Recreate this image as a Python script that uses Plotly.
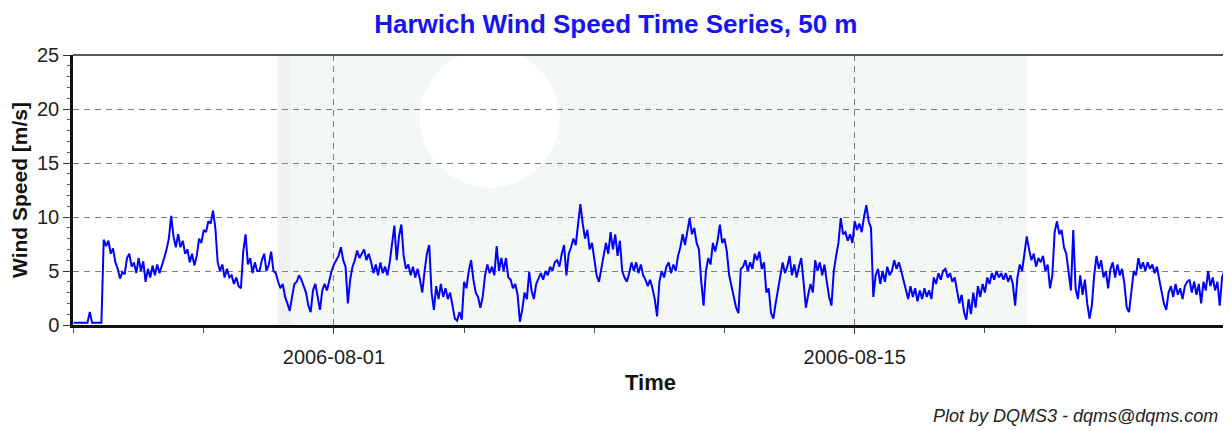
import pandas as pd
import plotly.graph_objects as go

title = "Harwich Wind Speed Time Series, 50 m"
start_time = "2006-07-25 00:00"
step = "90min"
# wind speed [m/s], one value every 1.5 hours
speed = [
    # 07-25
    0.2, 0.2, 0.2, 0.2, 0.2, 0.2, 0.2, 1.2, 0.2, 0.2, 0.2, 0.2, 0.2, 7.9, 7.3, 7.8,
    # 07-26
    6.6, 7.1, 5.8, 5.2, 4.3, 4.9, 4.7, 6.2, 6.6, 5.4, 5.8, 4.8, 6.2, 5.0, 5.9, 4.0,
    # 07-27
    5.2, 4.4, 5.5, 4.6, 5.6, 4.8, 5.4, 6.2, 7.0, 8.0, 10.1, 8.2, 7.2, 8.4, 7.2, 7.8,
    # 07-28
    6.6, 7.0, 5.8, 6.6, 5.5, 6.4, 8.0, 7.6, 8.8, 8.6, 9.6, 9.4, 10.6, 9.0, 5.8, 5.0,
    # 07-29
    5.6, 4.4, 5.2, 4.4, 4.6, 3.8, 4.4, 3.6, 3.4, 6.8, 8.4, 5.6, 6.2, 4.8, 5.8, 5.0,
    # 07-30
    5.0, 6.0, 6.6, 5.0, 5.6, 6.8, 5.0, 4.8, 4.0, 3.4, 3.8, 2.6, 2.0, 1.3, 2.6, 3.8,
    # 07-31
    4.0, 4.6, 4.2, 3.6, 3.0, 1.8, 1.2, 3.2, 3.8, 2.6, 1.4, 3.2, 3.8, 3.2, 4.2, 5.0,
    # 08-01
    5.6, 6.0, 6.4, 7.2, 6.0, 5.4, 2.0, 4.2, 5.4, 6.0, 6.9, 6.2, 6.6, 7.0, 6.0, 6.6,
    # 08-02
    5.8, 4.8, 5.6, 4.6, 5.8, 4.8, 5.4, 4.6, 5.8, 7.4, 9.2, 6.0, 8.2, 9.3, 6.4, 5.2,
    # 08-03
    5.6, 4.6, 5.4, 4.4, 5.2, 4.2, 3.0, 5.0, 6.6, 7.4, 3.0, 1.4, 3.6, 2.4, 3.8, 2.6,
    # 08-04
    3.4, 2.4, 3.0, 1.8, 0.6, 0.4, 1.2, 0.5, 4.0, 3.4, 5.0, 6.0, 4.2, 3.0, 2.6, 1.6,
    # 08-05
    2.6, 4.6, 5.6, 4.8, 5.4, 4.6, 7.3, 5.0, 6.2, 5.0, 6.2, 4.4, 4.2, 3.4, 3.8, 2.8,
    # 08-06
    0.3, 1.4, 3.0, 2.4, 4.9, 3.2, 2.4, 3.8, 4.4, 4.8, 4.2, 5.0, 4.6, 5.4, 5.0, 5.8,
    # 08-07
    6.0, 5.4, 6.6, 7.4, 4.6, 6.6, 7.2, 8.0, 7.4, 9.2, 11.2, 9.4, 8.0, 8.8, 7.0, 7.6,
    # 08-08
    6.2, 4.6, 4.0, 5.4, 6.4, 7.6, 6.6, 8.6, 7.0, 8.4, 6.4, 7.8, 5.0, 4.4, 4.0, 4.8,
    # 08-09
    5.8, 5.0, 5.8, 4.8, 5.6, 4.6, 4.2, 3.6, 4.2, 3.4, 2.4, 0.8, 4.0, 5.0, 4.4, 5.4,
    # 08-10
    5.8, 4.8, 5.6, 5.0, 6.4, 7.2, 8.4, 7.4, 8.6, 9.9, 8.4, 9.0, 7.6, 7.0, 4.0, 1.8,
    # 08-11
    5.0, 6.2, 5.6, 7.6, 6.8, 7.8, 9.3, 7.6, 8.0, 6.8, 4.6, 3.6, 2.4, 1.6, 1.1, 5.2,
    # 08-12
    5.4, 6.0, 5.0, 5.8, 5.2, 6.6, 6.0, 6.8, 5.2, 5.8, 3.0, 3.4, 1.1, 0.6, 2.0, 3.2,
    # 08-13
    4.4, 5.8, 4.8, 5.4, 6.4, 4.6, 5.6, 4.4, 5.4, 6.2, 4.0, 1.6, 2.8, 3.8, 3.0, 6.0,
    # 08-14
    5.0, 5.8, 4.6, 5.6, 4.0, 2.6, 1.8, 5.0, 6.4, 7.6, 9.9, 8.4, 8.6, 7.8, 8.4, 7.6,
    # 08-15
    9.6, 8.8, 9.4, 8.6, 10.0, 11.1, 9.6, 9.0, 2.6, 4.6, 5.2, 3.8, 5.0, 4.0, 5.4, 4.6,
    # 08-16
    5.0, 6.0, 5.2, 5.8, 5.0, 4.2, 3.2, 2.4, 3.6, 2.6, 3.4, 2.2, 3.2, 2.4, 3.4, 2.6,
    # 08-17
    3.2, 2.4, 4.4, 3.8, 4.8, 4.2, 5.0, 5.2, 4.4, 4.8, 4.0, 4.4, 3.2, 2.0, 2.8, 1.2,
    # 08-18
    0.5, 2.4, 1.0, 3.0, 1.6, 3.6, 2.6, 3.8, 3.0, 4.4, 3.8, 4.8, 4.2, 5.0, 4.4, 4.8,
    # 08-19
    4.2, 4.8, 4.0, 4.6, 3.8, 1.8, 4.4, 5.6, 5.0, 6.6, 8.2, 7.0, 6.0, 6.6, 5.4, 6.2,
    # 08-20
    5.8, 6.4, 5.0, 5.6, 3.4, 4.6, 8.6, 9.6, 8.4, 8.8, 7.2, 6.6, 5.0, 3.2, 8.8, 3.4,
    # 08-21
    2.4, 4.6, 2.8, 4.2, 2.0, 0.6, 1.8, 4.6, 6.4, 5.2, 6.0, 4.4, 5.0, 3.4, 5.2, 5.8,
    # 08-22
    4.4, 5.6, 4.6, 5.2, 3.8, 1.6, 1.2, 3.4, 5.0, 4.6, 6.2, 5.2, 5.8, 5.0, 5.8, 5.2,
    # 08-23
    5.6, 4.8, 5.4, 4.2, 3.0, 2.0, 1.4, 3.0, 3.6, 2.6, 3.8, 2.8, 3.4, 2.4, 3.6, 4.0,
    # 08-24
    4.2, 3.0, 4.0, 2.8, 3.8, 2.0, 4.0, 3.2, 5.0, 3.6, 4.4, 3.2, 4.0, 1.8, 4.4, 5.0,
    # 08-25 00:00
    4.8,
]
times = pd.date_range(start_time, periods=len(speed), freq=step)

x_tick_vals = ["2006-08-01", "2006-08-15"]
x_tick_text = ["2006-08-01", "2006-08-15"]
x_minor_vals = ["2006-07-25 00:00", "2006-07-28 12:00", "2006-08-01", "2006-08-04 12:00",
                "2006-08-08 00:00", "2006-08-11 12:00", "2006-08-15", "2006-08-18 12:00",
                "2006-08-22 00:00"]
x_range = ["2006-07-24 23:40", "2006-08-25 00:50"]
y_range = [0, 25]

fig = go.Figure()
fig.add_trace(go.Scatter(x=times, y=speed, mode="lines",
                         line=dict(color="#0000FF", width=2.0), showlegend=False))

# faint watermark in the background
fig.add_shape(type="rect", xref="x", yref="paper", x0="2006-07-30 11:50", x1="2006-08-19 15:00",
              y0=0, y1=1, fillcolor="#f3f8f4", line_width=0, layer="below")
fig.add_shape(type="rect", xref="x", yref="paper", x0="2006-07-30 11:50", x1="2006-07-30 20:00",
              y0=0, y1=1, fillcolor="#eff1ef", line_width=0, layer="below")
fig.add_shape(type="circle", xref="x", yref="y", x0="2006-08-03 07:30", x1="2006-08-07 01:40",
              y0=12.7, y1=25.6, fillcolor="white", line_width=0, layer="below")

# thinner top / right frame
fig.add_shape(type="line", xref="paper", yref="paper", x0=0, x1=1, y0=1, y1=1,
              line=dict(color="#222", width=1.6))
fig.add_shape(type="line", xref="paper", yref="paper", x0=1, x1=1, y0=0, y1=1,
              line=dict(color="#222", width=2))

fig.update_layout(
    width=1223, height=423,
    margin=dict(l=65, r=3, t=47, b=106),
    paper_bgcolor="white", plot_bgcolor="white",
    font=dict(family="Liberation Sans, Arial, sans-serif", color="#222"),
    title=dict(text="<b>" + title + "</b>", xref="container", x=0.497, xanchor="center",
               yref="container", y=1 - 16 / 423, yanchor="middle",
               font=dict(size=26, color="#1414F5")),
    xaxis=dict(range=x_range, tickvals=x_tick_vals, ticktext=x_tick_text,
               ticks="outside", ticklen=6, tickwidth=1, tickcolor="#333",
               ticklabelstandoff=6,
               tickfont=dict(size=20, color="#222"),
               showgrid=True, gridcolor="#808080", griddash="6px,5px", gridwidth=1,
               showline=True, linecolor="#111", linewidth=3, zeroline=False,
               minor=dict(tickvals=x_minor_vals, ticks="outside", ticklen=5, tickcolor="#555", showgrid=False),
               title=dict(text="<b>Time</b>", font=dict(size=22, color="#111"), standoff=8)),
    yaxis=dict(range=y_range, dtick=5, tick0=0,
               ticks="outside", ticklen=7, tickwidth=1, tickcolor="#333",
               tickfont=dict(size=20, color="#222"),
               showgrid=True, gridcolor="#808080", griddash="6px,5px", gridwidth=1,
               showline=True, linecolor="#111", linewidth=2.5, zeroline=False,
               minor=dict(dtick=1, ticks="outside", ticklen=3, tickcolor="#555", showgrid=False),
               title=dict(text="<b>Wind Speed [m/s]</b>", font=dict(size=21, color="#111"), standoff=8)),
)

fig.add_annotation(text="<i>Plot by DQMS3 - dqms@dqms.com</i>", xref="paper", yref="paper",
                   x=1, y=0, xanchor="right", yanchor="middle", yshift=-91, xshift=-8,
                   showarrow=False, font=dict(size=18, color="#222"))

fig.write_html("out.html")
